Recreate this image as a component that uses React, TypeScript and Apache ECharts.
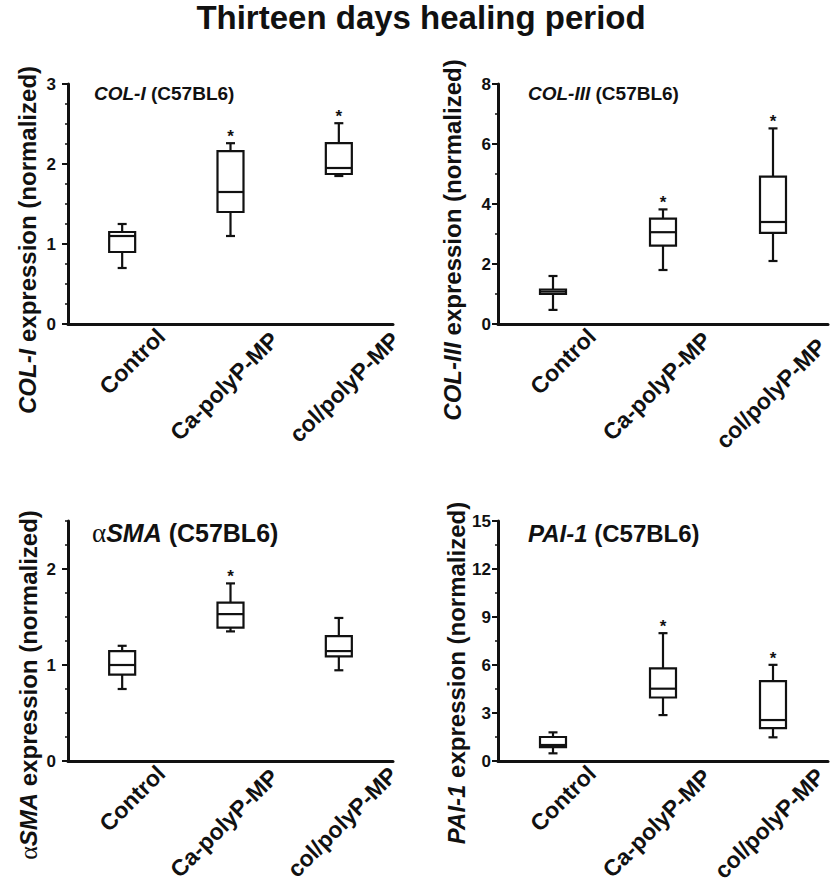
import React, { useEffect, useRef } from 'react';
import * as echarts from 'echarts';

const categories = ['Control', 'Ca-polyP-MP', 'col/polyP-MP'];

// box statistics per category: [min, q1, median, q3, max]
const col1Stats = [
  [0.7, 0.9, 1.1, 1.15, 1.25],
  [1.1, 1.4, 1.65, 2.16, 2.26],
  [1.85, 1.875, 1.95, 2.26, 2.51],
];
const col1Sig = [false, true, true];

const col3Stats = [
  [0.47, 1.0, 1.08, 1.15, 1.6],
  [1.8, 2.61, 3.06, 3.51, 3.82],
  [2.1, 3.04, 3.4, 4.91, 6.52],
];
const col3Sig = [false, true, true];

const smaStats = [
  [0.75, 0.9, 1.0, 1.145, 1.2],
  [1.35, 1.39, 1.53, 1.65, 1.85],
  [0.945, 1.09, 1.145, 1.3, 1.49],
];
const smaSig = [false, true, false];

const paiStats = [
  [0.48, 0.87, 1.0, 1.5, 1.79],
  [2.87, 3.97, 4.52, 5.79, 7.99],
  [1.48, 2.06, 2.56, 4.99, 6.01],
];
const paiSig = [false, true, true];

const col1Ticks = [0, 1, 2, 3];
const col3Ticks = [0, 2, 4, 6, 8];
const smaTicks = [0, 1, 2];
const paiTicks = [0, 3, 6, 9, 12, 15];

const FONT = '"Liberation Sans", Arial, Helvetica, sans-serif';
const INK = '#111';

const panels = [
  { stats: col1Stats, sig: col1Sig, ticks: col1Ticks, max: 3, minor: 0.25, grid: { left: 68, top: 84, width: 325, height: 240 }, labelMargin: 12, lastPad: [32, -6, 0, 0] },
  { stats: col3Stats, sig: col3Sig, ticks: col3Ticks, max: 8, minor: 1, grid: { left: 498, top: 84, width: 330, height: 240 }, labelMargin: 7, lastPad: [30, 4, 0, 0] },
  { stats: smaStats, sig: smaSig, ticks: smaTicks, max: 2.5, minor: 0.25, grid: { left: 68, top: 521, width: 325, height: 240 }, labelMargin: 12, lastPad: [26, -6, 0, 0] },
  { stats: paiStats, sig: paiSig, ticks: paiTicks, max: 15, minor: 1.5, grid: { left: 498, top: 521, width: 330, height: 240 }, labelMargin: 7, lastPad: [18, 0, 0, 0] },
];

const renderBox = (params: any, api: any) => {
  const ci = api.value(0);
  const vals = [1, 2, 3, 4, 5].map((i) => api.value(i));
  const sig = api.value(6);
  const pts = vals.map((v) => api.coord([ci, v]));
  const cx = pts[0][0];
  const [yMin, yQ1, yMed, yQ3, yMax] = pts.map((p: number[]) => p[1]);
  const hw = 13;
  const cap = 4.5;
  const st = { stroke: INK, lineWidth: 2.2, fill: 'none' };
  const children: any[] = [
    { type: 'line', shape: { x1: cx, y1: yMax, x2: cx, y2: yQ3 }, style: st },
    { type: 'line', shape: { x1: cx - cap, y1: yMax, x2: cx + cap, y2: yMax }, style: st },
    { type: 'line', shape: { x1: cx, y1: yQ1, x2: cx, y2: yMin }, style: st },
    { type: 'line', shape: { x1: cx - cap, y1: yMin, x2: cx + cap, y2: yMin }, style: st },
    { type: 'rect', shape: { x: cx - hw, y: yQ3, width: 2 * hw, height: yQ1 - yQ3 }, style: { stroke: INK, lineWidth: 2.2, fill: '#fff' } },
    { type: 'line', shape: { x1: cx - hw, y1: yMed, x2: cx + hw, y2: yMed }, style: st },
  ];
  if (sig) {
    children.push({
      type: 'text',
      x: cx,
      y: yMax + 2,
      style: { text: '*', fontSize: 17, fontWeight: 'bold', fontFamily: FONT, fill: INK, align: 'center', verticalAlign: 'bottom' },
    });
  }
  return { type: 'group', children };
};

const yTitle = (x: number, y: number, text: string, rich: any) => ({
  type: 'text',
  x,
  y,
  rotation: Math.PI / 2,
  style: {
    text,
    rich,
    fontSize: 24,
    fontWeight: 'bold',
    fontFamily: FONT,
    fill: INK,
    align: 'center',
    verticalAlign: 'middle',
  },
});

const inTitle = (x: number, y: number, text: string, size: number, rich: any) => ({
  type: 'text',
  x,
  y,
  style: {
    text,
    rich,
    fontSize: size,
    fontWeight: 'bold',
    fontFamily: FONT,
    fill: INK,
    align: 'left',
    verticalAlign: 'middle',
  },
});

const italic = (size: number) => ({ fontStyle: 'italic', fontWeight: 'bold', fontSize: size, fontFamily: FONT, fill: INK });
const greek = (size: number) => ({ fontStyle: 'normal', fontWeight: 'normal', fontSize: size, fontFamily: '"Liberation Serif", "DejaVu Serif", serif', fill: INK });

const xLabelStyle = (pad: number[]) => ({ fontSize: 23, fontWeight: 'bold', fontFamily: FONT, color: INK, padding: pad });

export default function App() {
  const ref = useRef<HTMLDivElement>(null);
  useEffect(() => {
    if (!ref.current) return;
    const chart = echarts.init(ref.current, null, { renderer: 'svg' });
    const grids: any[] = [];
    const xAxes: any[] = [];
    const yAxes: any[] = [];
    const series: any[] = [];
    panels.forEach((p, i) => {
      grids.push({ ...p.grid, containLabel: false, outerBoundsMode: 'none' });
      xAxes.push({
        type: 'category',
        gridIndex: i,
        data: categories,
        boundaryGap: true,
        axisLine: { lineStyle: { color: INK, width: 3 } },
        axisTick: { alignWithLabel: true, length: 6, lineStyle: { color: INK, width: 2 } },
        axisLabel: {
          interval: 0,
          rotate: 45,
          margin: 46,
          padding: [0, -58, 0, 0],
          fontSize: 23,
          fontWeight: 'bold',
          fontFamily: FONT,
          color: INK,
          formatter: (v: string, idx: number) => `{c${idx}|${v}}`,
          rich: {
            c0: xLabelStyle([2, 4, 0, 0]),
            c1: xLabelStyle([14, 3, 0, 0]),
            c2: xLabelStyle(p.lastPad),
          },
        },
        splitLine: { show: false },
      });
      const majorInterval = p.ticks[1] - p.ticks[0];
      yAxes.push({
        type: 'value',
        gridIndex: i,
        position: 'left',
        min: 0,
        max: p.max,
        interval: majorInterval,
        axisLine: { show: true, onZero: false, lineStyle: { color: INK, width: 3 } },
        axisTick: { show: true, length: 6, lineStyle: { color: INK, width: 2 }, customValues: p.ticks },
        axisLabel: {
          margin: p.labelMargin,
          fontSize: 17,
          fontWeight: 'bold',
          fontFamily: FONT,
          color: INK,
          customValues: p.ticks,
        },
        splitLine: { show: false },
      });
      yAxes.push({
        type: 'value',
        gridIndex: i,
        position: 'left',
        offset: 0,
        min: 0,
        max: p.max,
        interval: p.minor,
        axisLine: { show: false, onZero: false },
        axisTick: { show: true, length: 3, lineStyle: { color: INK, width: 1.5 } },
        axisLabel: { show: false },
        splitLine: { show: false },
      });
      series.push({
        type: 'custom',
        xAxisIndex: i,
        yAxisIndex: i * 2,
        renderItem: renderBox,
        encode: { x: 0, y: [1, 2, 3, 4, 5] },
        data: p.stats.map((s, k) => [k, ...s, p.sig[k] ? 1 : 0]),
        z: 5,
      });
    });

    chart.setOption({
      animation: false,
      backgroundColor: '#fff',
      grid: grids,
      xAxis: xAxes,
      yAxis: yAxes,
      series,
      graphic: {
        elements: [
          {
            type: 'text',
            x: 421,
            y: 17,
            style: { text: 'Thirteen days healing period', fontSize: 33, fontWeight: 'bold', fontFamily: FONT, fill: INK, align: 'center', verticalAlign: 'middle' },
          },
          yTitle(27, 240, '{i|COL-I} expression (normalized)', { i: italic(24) }),
          yTitle(452, 240, '{i|COL-III} expression (normalized)', { i: italic(24) }),
          yTitle(28, 685, '{g|α}{i|SMA} expression (normalized)', { i: italic(24), g: greek(26) }),
          yTitle(456, 673, '{i|PAI-1} expression (normalized)', { i: italic(24) }),
          inTitle(94, 93, '{i|COL-I} (C57BL6)', 19, { i: italic(19) }),
          inTitle(528, 93, '{i|COL-III} (C57BL6)', 19, { i: italic(19) }),
          inTitle(92, 533, '{g|α}{i|SMA} (C57BL6)', 25, { i: italic(25), g: greek(27) }),
          inTitle(528, 533, '{i|PAI-1} (C57BL6)', 24, { i: italic(24) }),
        ],
      },
    });
    return () => chart.dispose();
  }, []);
  return <div ref={ref} style={{ position: 'absolute', left: 0, top: 0, width: 837, height: 883 }} />;
}
